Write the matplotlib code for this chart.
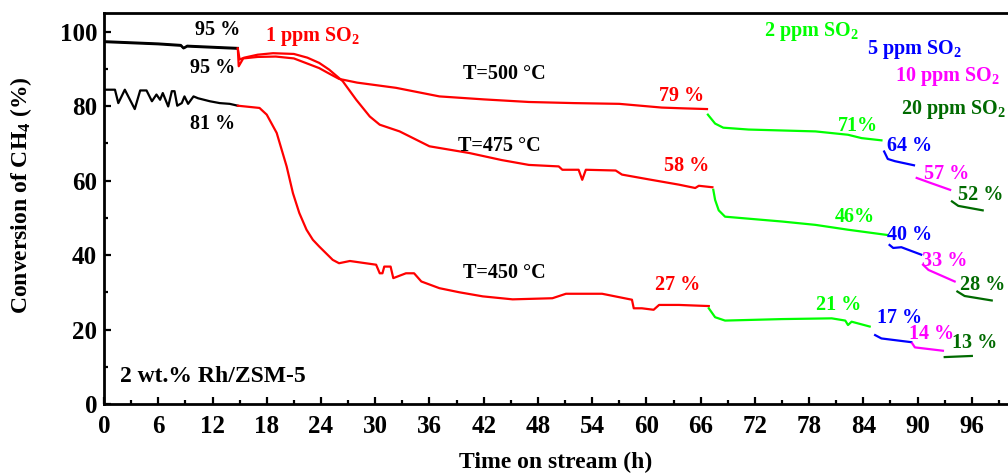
import matplotlib
matplotlib.use("Agg")
import matplotlib.pyplot as plt
from matplotlib.ticker import MultipleLocator

plt.rcParams['font.family'] = ['Liberation Serif', 'DejaVu Serif']
plt.rcParams['font.weight'] = 'bold'
plt.rcParams['mathtext.fontset'] = 'custom'
plt.rcParams['mathtext.rm'] = 'Liberation Serif'
plt.rcParams['mathtext.bf'] = 'Liberation Serif:bold'
plt.rcParams['mathtext.default'] = 'bf'

RED = '#ff0000'
LIME = '#00ff00'
BLUE = '#0000ff'
MAGENTA = '#ff00ff'
DKGREEN = '#006a00'

# --- T = 500 C ---
black500_t = [0, 3, 6, 8.5, 8.8, 9.2, 12, 14.8]
black500_y = [97.4, 97.1, 96.8, 96.4, 95.6, 96.2, 95.9, 95.6]
red500_t = [14.8, 14.9, 15.4, 17, 19, 21, 23.8, 25, 26, 28, 32.3, 37.1, 42, 47, 52, 57, 61.7, 64, 66.7]
red500_y = [95.5, 90.7, 92.8, 93.2, 93.3, 92.8, 90.2, 88.6, 87.3, 86.3, 84.9, 82.6, 81.8, 81.1, 80.8, 80.6, 79.6, 79.4, 79.2]
lime500_t = [66.8, 67.6, 68.5, 71.3, 78.7, 82.3, 83.8, 86.0]
lime500_y = [77.7, 75.3, 74.2, 73.7, 73.2, 72.3, 71.4, 70.8]
blue500_t = [86.3, 86.7, 87.5, 89.6]
blue500_y = [67.8, 65.8, 65.2, 64.1]
mag500_t = [89.9, 91.5, 93.6]
mag500_y = [60.7, 59.3, 57.5]
dkg500_t = [93.8, 94.5, 97.2]
dkg500_y = [54.4, 53.2, 52.0]

# --- T = 475 C ---
black475_t = [0, 3, 6, 8.5, 8.8, 9.2, 12, 14.8]
black475_y = [97.2, 96.9, 96.6, 96.2, 95.5, 96.0, 95.7, 95.4]
red475_t = [14.8, 15.0, 15.5, 17, 18.7, 21, 22.5, 23.8, 24.9, 26.4, 27.9, 29.4, 30.5, 32.7, 36.0,
            40.4, 44, 47.0, 50.3, 50.7, 52.5, 52.9, 53.3, 56.6, 57.3, 60.3, 63.6, 65.4, 65.8, 67.3]
red475_y = [95.4, 92.5, 93.0, 93.8, 94.2, 94.0, 93.0, 91.6, 89.8, 86.7, 81.7, 77.2, 75.0, 73.2, 69.2,
            67.4, 65.5, 64.2, 63.8, 62.9, 62.9, 60.2, 62.9, 62.7, 61.6, 60.3, 58.9, 58.0, 58.6, 58.2]
lime475_t = [67.4, 67.6, 68.0, 68.7, 75.0, 78.7, 82.3, 86.6]
lime475_y = [57.5, 54.8, 52.0, 50.3, 49.0, 48.1, 46.8, 45.4]
blue475_t = [86.9, 87.3, 88.2, 90.4]
blue475_y = [42.7, 41.9, 42.1, 40.1]
mag475_t = [90.6, 91.2, 94.1]
mag475_y = [37.4, 36.0, 32.9]
dkg475_t = [94.4, 95.2, 98.2]
dkg475_y = [30.2, 29.0, 27.8]

# --- T = 450 C ---
black450_t = [0, 1.21, 1.58, 2.3, 3.4, 4.0, 4.7, 5.3, 5.8, 6.2, 6.5, 7.1, 7.5, 7.8, 8.1, 8.6,
              8.9, 9.3, 9.9, 10.4, 11.7, 12.8, 13.9, 14.8]
black450_y = [84.4, 84.4, 80.8, 84.4, 79.2, 84.2, 84.2, 81.3, 83.1, 81.7, 83.5, 79.9, 84.0, 84.0, 80.1, 80.8,
              82.6, 80.6, 82.6, 82.1, 81.3, 80.8, 80.6, 80.1]
red450_t = [14.8, 16, 17.2, 18.0, 19.1, 20.2, 20.9, 21.6, 22.4, 23.1, 23.8, 25.3, 26.0, 27.2, 30.1, 30.5,
            30.8, 31.0, 31.7, 32.0, 33.4, 34.3, 35.1, 37.1, 39.3, 41.9, 45.2, 49.6, 51.1, 55.1, 58.4,
            58.6, 59.5, 60.8, 61.4, 63.6, 66.9]
red450_y = [80.1, 79.8, 79.5, 77.7, 72.8, 63.8, 56.6, 51.3, 46.8, 44.1, 42.3, 38.7, 37.8, 38.4, 37.4, 35.1,
            35.1, 36.9, 36.9, 33.8, 35.1, 35.1, 32.9, 31.1, 30.0, 28.9, 28.1, 28.4, 29.6, 29.6, 28.0,
            25.7, 25.7, 25.3, 26.6, 26.6, 26.3]
lime450_t = [66.9, 67.6, 68.7, 75.0, 80.5, 82.0, 82.3, 82.7, 84.7]
lime450_y = [25.7, 23.3, 22.4, 22.8, 23.0, 22.4, 21.2, 22.1, 20.8]
blue450_t = [85.3, 86.0, 89.3]
blue450_y = [18.5, 17.6, 16.6]
mag450_t = [89.4, 89.7, 92.8]
mag450_y = [16.3, 15.2, 14.3]
dkg450_t = [93.0, 96.0]
dkg450_y = [12.6, 12.9]

fig = plt.figure(figsize=(10.08, 4.74), dpi=100)
ax = fig.add_axes([0.1032, 0.1477, 0.8968, 0.8249])

segments = [
    (black500_t, black500_y, 'black'), (black475_t, black475_y, 'black'), (black450_t, black450_y, 'black'),
    (red500_t, red500_y, RED), (red475_t, red475_y, RED), (red450_t, red450_y, RED),
    (lime500_t, lime500_y, LIME), (lime475_t, lime475_y, LIME), (lime450_t, lime450_y, LIME),
    (blue500_t, blue500_y, BLUE), (blue475_t, blue475_y, BLUE), (blue450_t, blue450_y, BLUE),
    (mag500_t, mag500_y, MAGENTA), (mag475_t, mag475_y, MAGENTA), (mag450_t, mag450_y, MAGENTA),
    (dkg500_t, dkg500_y, DKGREEN), (dkg475_t, dkg475_y, DKGREEN), (dkg450_t, dkg450_y, DKGREEN),
]
for t, y, c in segments:
    ax.plot(t, y, color=c, linewidth=1.6)

ax.set_xlim(0, 100)
ax.set_ylim(0, 105)
ax.xaxis.set_major_locator(MultipleLocator(6))
ax.xaxis.set_minor_locator(MultipleLocator(3))
ax.yaxis.set_major_locator(MultipleLocator(20))
ax.yaxis.set_minor_locator(MultipleLocator(10))
ax.tick_params(which='both', direction='in', width=1.6, labelsize=18, top=False, right=False)
ax.tick_params(which='major', length=5)
ax.tick_params(which='minor', length=3)
ax.tick_params(axis='x', pad=8)
ax.tick_params(axis='y', pad=5)
for s in ax.spines.values():
    s.set_linewidth(2)
ax.spines['right'].set_visible(False)

ax.set_xlabel('Time on stream (h)', fontsize=17, fontweight='bold', labelpad=10)
ax.set_ylabel('Conversion of CH$_4$ (%)', fontsize=17, fontweight='bold')
ax.yaxis.set_label_coords(-0.077, 0.533)

fs = 14.5
def lab(x, y, s, c='black', ha='center'):
    ax.text(x, y, s, color=c, fontsize=fs, fontweight='bold', ha=ha, va='center')

lab(12.6, 100.3, '95 %')
lab(12.0, 90.2, '95 %')
lab(12.0, 75.3, '81 %')
lab(17.8, 98.6, '1 ppm SO$_2$', RED, 'left')
lab(44.3, 88.7, 'T=500 °C')
lab(43.7, 69.2, 'T=475 °C')
lab(44.3, 35.1, 'T=450 °C')
lab(63.9, 82.6, '79 %', RED)
lab(64.5, 63.8, '58 %', RED)
lab(63.4, 32.0, '27 %', RED)
lab(73.0, 100.1, '2 ppm SO$_2$', LIME, 'left')
lab(84.4, 95.3, '5 ppm SO$_2$', BLUE, 'left')
lab(87.5, 88.0, '10 ppm SO$_2$', MAGENTA, 'left')
lab(88.2, 79.0, '20 ppm SO$_2$', DKGREEN, 'left')
lab(83.4, 74.7, '71%', LIME)
lab(89.1, 69.2, '64 %', BLUE)
lab(93.2, 61.8, '57 %', MAGENTA)
lab(97.0, 56.0, '52 %', DKGREEN)
lab(83.1, 50.2, '46%', LIME)
lab(89.1, 45.4, '40 %', BLUE)
lab(93.0, 38.5, '33 %', MAGENTA)
lab(97.2, 32.0, '28 %', DKGREEN)
lab(81.3, 26.6, '21 %', LIME)
lab(88.0, 23.0, '17 %', BLUE)
lab(91.5, 18.8, '14 %', MAGENTA)
lab(96.3, 16.5, '13 %', DKGREEN)
ax.text(1.8, 7.3, '2 wt.% Rh/ZSM-5', fontsize=17, fontweight='bold', ha='left', va='center')

fig.savefig('out.png', dpi=100)
